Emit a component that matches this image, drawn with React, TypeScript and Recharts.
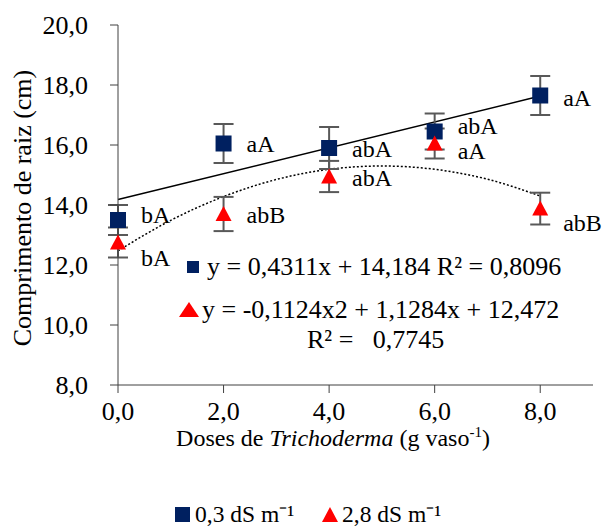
import React from 'react';
import { ComposedChart, Scatter, Line, XAxis, YAxis, ErrorBar } from 'recharts';

// ---- data ----
const doses = [0, 2, 4, 6, 8];
const lowSalinity = [13.5, 16.05, 15.9, 16.45, 17.65];      // 0,3 dS m-1
const lowSalinityErr = [0.5, 0.65, 0.7, 0.6, 0.65];
const lowLetters = ['bA', 'aA', 'abA', 'abA', 'aA'];
const highSalinity = [12.75, 13.7, 14.95, 16.05, 13.88];     // 2,8 dS m-1
const highSalinityErr = [0.5, 0.57, 0.52, 0.5, 0.53];
const highLetters = ['bA', 'abB', 'abA', 'aA', 'abB'];
const linearTrendX = [0, 8];
const linearTrendY = [14.18, 17.63];
const quadTrendX = [0, 1, 2, 3, 4, 5, 6, 7, 8];
const quadTrendY = [12.47, 13.49, 14.28, 14.85, 15.19, 15.3, 15.19, 14.86, 14.3];
const xTicks = [0, 2, 4, 6, 8];
const yTicks = [8, 10, 12, 14, 16, 18, 20];
const seriesNames = ['0,3 dS m⁻¹', '2,8 dS m⁻¹'];
const linearEquation = 'y = 0,4311x + 14,184 R² = 0,8096';
const quadEquation = 'y = -0,1124x2 + 1,1284x + 12,472';
const quadR2 = 'R² =   0,7745';

// ---- styling / layout ----
const FONT = 'Liberation Serif';
const NAVY = '#002060';
const RED = '#FF0000';
const lowLabelDy = [-5, 0, 1, -6, 2];
const highLabelDy = [15, 1, 1, 7, 14];
const LABEL_DX = 23;

const lowData = doses.map((x, i) => ({ x, y: lowSalinity[i], err: lowSalinityErr[i], label: lowLetters[i] }));
const highData = doses.map((x, i) => ({ x, y: highSalinity[i], err: highSalinityErr[i], label: highLetters[i] }));
const linData = linearTrendX.map((x, i) => ({ x, y: linearTrendY[i] }));
const quadData = quadTrendX.map((x, i) => ({ x, y: quadTrendY[i] }));

const fmt = (v: number) => v.toFixed(1).replace('.', ',');

const SquareShape = (props: any) => {
  const { cx, cy, payload } = props;
  const i = doses.indexOf(payload.x);
  return (
    <g>
      <rect x={cx - 8} y={cy - 8} width={16} height={16} fill={NAVY} />
      <text x={cx + LABEL_DX} y={cy + lowLabelDy[i]} dominantBaseline="central" fontFamily={FONT} fontSize={24} fill="#000">
        {payload.label}
      </text>
    </g>
  );
};

const TriangleShape = (props: any) => {
  const { cx, cy, payload } = props;
  const i = doses.indexOf(payload.x);
  return (
    <g>
      <polygon points={`${cx},${cy - 8} ${cx - 8},${cy + 7} ${cx + 8},${cy + 7}`} fill={RED} />
      <text x={cx + LABEL_DX} y={cy + highLabelDy[i]} dominantBaseline="central" fontFamily={FONT} fontSize={24} fill="#000">
        {payload.label}
      </text>
    </g>
  );
};

const renderYLabel = () => (
  <text x={22} y={208} transform="rotate(-90 22 208)" textAnchor="middle" dominantBaseline="central" fontFamily={FONT} fontSize={26} fill="#000">
    Comprimento de raiz (cm)
  </text>
);

const renderXLabel = () => (
  <text x={333} y={446} textAnchor="middle" fontFamily={FONT} fontSize={24} fill="#000">
    Doses de <tspan fontStyle="italic">Trichoderma</tspan> (g vaso
    <tspan dy={-9} fontSize={15}>-1</tspan>
    <tspan dy={9}>)</tspan>
  </text>
);

export default function App() {
  return (
    <div style={{ position: 'absolute', left: 0, top: 0, width: 606, height: 527, background: '#fff' }}>
      <ComposedChart width={606} height={527} margin={{ top: 25, right: 13, bottom: 0, left: 0 }}>
        <XAxis
          dataKey="x"
          type="number"
          domain={[0, 9]}
          ticks={xTicks}
          tickFormatter={fmt}
          height={142}
          stroke="#404040"
          tickSize={8}
          tickMargin={9}
          tick={{ fontFamily: FONT, fontSize: 26, fill: '#000' }}
          label={renderXLabel}
        />
        <YAxis
          dataKey="y"
          type="number"
          domain={[8, 20]}
          ticks={yTicks}
          tickFormatter={fmt}
          width={118}
          stroke="#404040"
          tickSize={8}
          tickMargin={22}
          tick={{ fontFamily: FONT, fontSize: 26, fill: '#000' }}
          label={renderYLabel}
        />
        <Line data={linData} dataKey="y" type="linear" stroke="#000" strokeWidth={1.5} dot={false} activeDot={false} isAnimationActive={false} />
        <Line data={quadData} dataKey="y" type="monotone" stroke="#000" strokeWidth={1.5} strokeDasharray="2 2" dot={false} activeDot={false} isAnimationActive={false} />
        <Scatter data={lowData} dataKey="y" shape={SquareShape} isAnimationActive={false}>
          <ErrorBar dataKey="err" direction="y" width={10} strokeWidth={2} stroke="#595959" />
        </Scatter>
        <Scatter data={highData} dataKey="y" shape={TriangleShape} isAnimationActive={false}>
          <ErrorBar dataKey="err" direction="y" width={10} strokeWidth={2} stroke="#595959" />
        </Scatter>
      </ComposedChart>
      <svg width={606} height={527} style={{ position: 'absolute', left: 0, top: 0, pointerEvents: 'none' }}>
        <rect x={187} y={261} width={12} height={12} fill={NAVY} />
        <text x={207} y={266} dominantBaseline="central" fontFamily={FONT} fontSize={26} fill="#000">{linearEquation}</text>
        <polygon points="189,302 179,317 199,317" fill={RED} />
        <text x={202} y={309} dominantBaseline="central" fontFamily={FONT} fontSize={26} fill="#000">{quadEquation}</text>
        <text x={307} y={339} dominantBaseline="central" fontFamily={FONT} fontSize={26} fill="#000" style={{ whiteSpace: 'pre' }}>{quadR2}</text>
        <rect x={175} y={507} width={15} height={15} fill={NAVY} />
        <text x={195} y={514} dominantBaseline="central" fontFamily={FONT} fontSize={23.5} fill="#000">{seriesNames[0]}</text>
        <polygon points="330,507 322,522 338,522" fill={RED} />
        <text x={342} y={514} dominantBaseline="central" fontFamily={FONT} fontSize={23.5} fill="#000">{seriesNames[1]}</text>
      </svg>
    </div>
  );
}
